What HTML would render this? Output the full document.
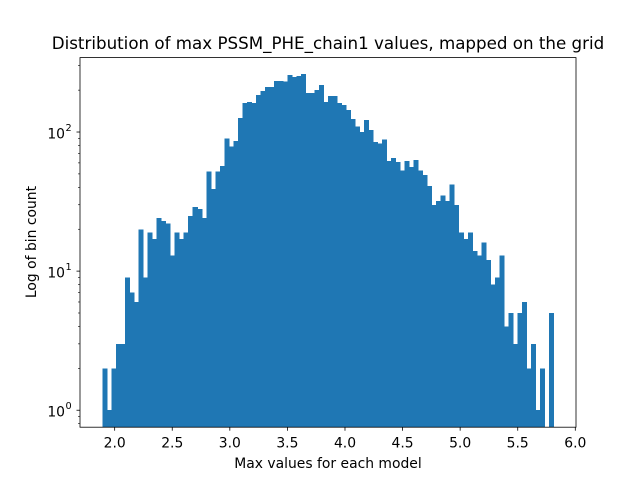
<!DOCTYPE html>
<html><head><meta charset="utf-8"><style>
body{margin:0;background:#fff;}
svg{display:block;font-family:"DejaVu Sans","Liberation Sans",sans-serif;}
</style></head><body>
<svg id="chart" width="640" height="480"></svg>
<script>
const counts = [2,1,2,3,3,9,7,6,20,9,19,17,24,23,22,13,19,17,19,25,29,28,24,52,39,52,57,90,79,86,126,162,164,162,185,197,211,211,233,233,230,257,248,252,262,191,191,200,218,164,181,181,162,156,144,124,110,100,122,103,85,83,88,62,65,61,53,62,56,63,53,49,41,30,32,35,32,42,30,19,17,19,14,13,16,12,8,9,13,4,5,3,5,6,2,3,1,2,0,5];
const binRange = [1.895, 5.81];
const xTicks = [2.0,2.5,3.0,3.5,4.0,4.5,5.0,5.5,6.0];
const xTickLabels = ["2.0","2.5","3.0","3.5","4.0","4.5","5.0","5.5","6.0"];
const yTicks = [1,10,100];
const yTickLabels = ["10","10","10"];
const yTickExp = ["0","1","2"];

const NS="http://www.w3.org/2000/svg";
const svg=document.getElementById('chart');
const L=80,R=576,T=57.6,B=427.2;
const xmin=1.699,xmax=6.006,ylmin=-0.122,ylmax=2.535;
const xs=v=>L+(v-xmin)/(xmax-xmin)*(R-L);
const ys=v=>B-(Math.log10(v)-ylmin)/(ylmax-ylmin)*(B-T);
function mk(tag,attrs,parent){const e=document.createElementNS(NS,tag);for(const k in attrs)e.setAttribute(k,attrs[k]);(parent||svg).appendChild(e);return e;}

const bw=(binRange[1]-binRange[0])/counts.length;
const barsG=mk('g',{'shape-rendering':'crispEdges'});


counts.forEach((c,i)=>{
  if(c<=0)return;
  const x0=xs(binRange[0]+i*bw),x1=xs(binRange[0]+(i+1)*bw);
  const y=ys(c);
  const r=mk('rect',{x:x0,y:y,width:x1-x0+0.5,height:B-y,fill:'#1f77b4'},barsG);
  
  
});

const frame=mk('rect',{x:L,y:T,width:R-L,height:B-T,fill:'none',stroke:'#000','stroke-width':0.8});



xTicks.forEach((v,i)=>{
  const x=xs(v);
  mk('line',{x1:x,x2:x,y1:B,y2:B+3.5,stroke:'#000','stroke-width':0.8});
  const t=mk('text',{x:x,y:B+20.5,'text-anchor':'middle','font-size':'13.9px'});
  t.textContent=xTickLabels[i];
  
  
});
yTicks.forEach((v,i)=>{
  const y=ys(v);
  mk('line',{x1:L-3.5,x2:L,y1:y,y2:y,stroke:'#000','stroke-width':0.8});
  const t=mk('text',{x:L-15,y:y+6.5,'text-anchor':'end','font-size':'13.9px'});
  t.textContent=yTickLabels[i];
  
  
  const e=mk('text',{x:L-14.5,y:y-1,'text-anchor':'start','font-size':'9.7px'});
  e.textContent=yTickExp[i];
});
for(let d=-1;d<=2;d++){for(let m=2;m<=9;m++){const v=m*Math.pow(10,d);const lv=Math.log10(v);if(lv<ylmin||lv>ylmax)continue;const y=ys(v);mk('line',{x1:L-2,x2:L,y1:y,y2:y,stroke:'#000','stroke-width':0.6});}}

const title=mk('text',{x:328,y:49,'text-anchor':'middle','font-size':'16.7px'});
title.textContent='Distribution of max PSSM_PHE_chain1 values, mapped on the grid';


const xl=mk('text',{x:328,y:468,'text-anchor':'middle','font-size':'13.9px'});
xl.textContent='Max values for each model';


const yl=mk('text',{x:36,y:242,'text-anchor':'middle','font-size':'13.9px',transform:'rotate(-90 36 242)'});
yl.textContent='Log of bin count';


</script>
</body></html>
